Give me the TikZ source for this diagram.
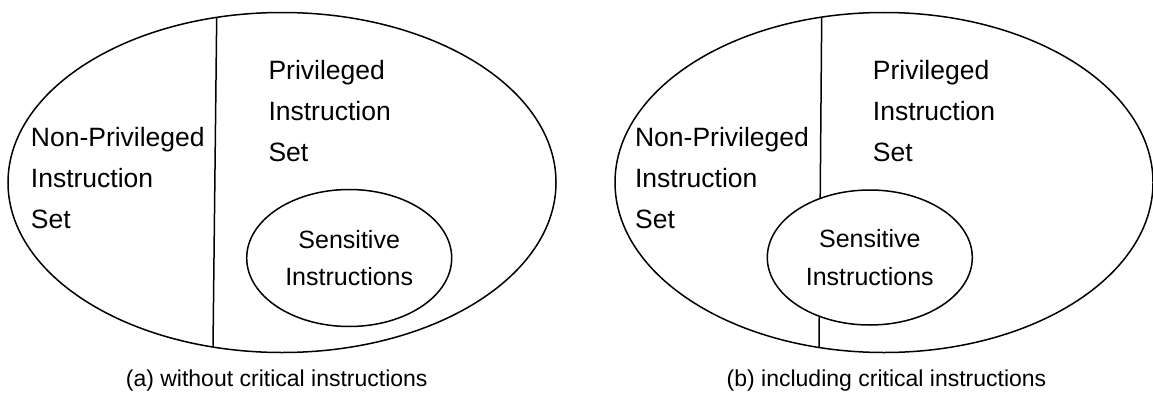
\documentclass[tikz,border=0pt]{standalone}
\usepackage{fontspec}
\setmainfont{Liberation Sans}
\usetikzlibrary{shapes.geometric}
\tikzset{
  setshape/.style={draw, ellipse, inner sep=0pt, line width=1.5pt},
  divider/.style={draw, line width=1.5pt},
  setlabel/.style={anchor=base west, align=left, inner sep=0pt,
    font=\fontsize{26.5}{41}\selectfont},
  innerlabel/.style={align=center, font=\fontsize{25}{37.7}\selectfont},
  caption/.style={anchor=base, inner sep=0pt, font=\fontsize{23}{28}\selectfont}
}
\begin{document}
\begin{tikzpicture}[x=1pt, y=-1pt]
\useasboundingbox (0,0) rectangle (1153,396);

% (a) sensitive instructions lie entirely inside the privileged set
\node[setshape, minimum width=548pt, minimum height=340pt] (A) at (282,182.5) {};
\node[setshape, minimum width=205pt, minimum height=137pt, innerlabel] (As) at (349.2,258) {Sensitive\\Instructions};
\coordinate (At) at (216.7,17.4);
\coordinate (Ab) at (213,347);
\draw[divider] (At) -- (Ab);
% label nodes are placed by the baseline of their last line
\node[setlabel] (An) at (30.7,228.4) {Non-Privileged\\Instruction\\Set};
\node[setlabel] (Ap) at (268.3,161.8) {Privileged\\Instruction\\Set};
\node[caption] (Ac) at (276.7,386) {(a) without critical instructions};

% (b) sensitive instructions straddle the boundary
\node[setshape, minimum width=538pt, minimum height=340pt] (B) at (884,182.5) {};
\node[setshape, minimum width=205pt, minimum height=135pt, innerlabel] (Bs) at (869.8,257.5) {Sensitive\\Instructions};
\coordinate (Bt) at (821.7,17.1);
\coordinate (Bm1) at (820.2,198.2);
\coordinate (Bm2) at (819.25,316.8);
\coordinate (Bb) at (819,347.5);
\draw[divider] (Bt) -- (Bm1);
\draw[divider] (Bm2) -- (Bb);
\node[setlabel] (Bn) at (634.9,228.4) {Non-Privileged\\Instruction\\Set};
\node[setlabel] (Bp) at (872.7,161.8) {Privileged\\Instruction\\Set};
\node[caption] (Bc) at (886.5,386) {(b) including critical instructions};
\end{tikzpicture}
\end{document}
